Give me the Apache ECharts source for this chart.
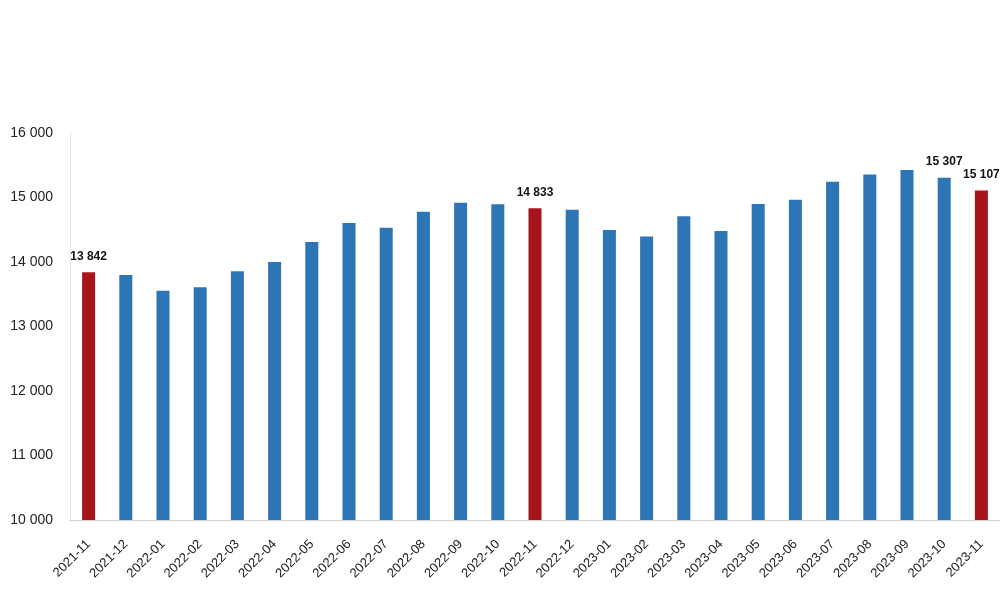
<!DOCTYPE html>
<html>
<head>
<meta charset="utf-8">
<style>
  html, body { margin: 0; padding: 0; background: #fff; }
  .bar { width: 1000px; height: 593px; }
</style>
<script src="https://cdn.jsdelivr.net/npm/echarts@6/dist/echarts.min.js"></script>
</head>
<body>
<div class="bar"></div>
<script>
// 月份
var months = ['2021-11', '2021-12', '2022-01', '2022-02', '2022-03', '2022-04', '2022-05', '2022-06',
  '2022-07', '2022-08', '2022-09', '2022-10', '2022-11', '2022-12', '2023-01', '2023-02', '2023-03',
  '2023-04', '2023-05', '2023-06', '2023-07', '2023-08', '2023-09', '2023-10', '2023-11'];
// 数值
var values = [13842, 13800, 13555, 13610, 13855, 14000, 14310, 14605, 14530, 14780, 14920, 14895,
  14833, 14810, 14495, 14395, 14710, 14480, 14900, 14965, 15245, 15355, 15425, 15307, 15107];
// 红色柱子（同月对比）
var redMonths = ['2021-11', '2022-11', '2023-11'];
// 显示数值标签的柱子
var labelMonths = ['2021-11', '2022-11', '2023-10', '2023-11'];
// y轴刻度
var yMin = 10000;
var yMax = 16000;
var yStep = 1000;

(function () {
  function fmt(v) {
    return String(v).replace(/\B(?=(\d{3})+(?!\d))/g, ' ');
  }

  var data = values.map(function (v, i) {
    var m = months[i];
    return {
      value: v,
      itemStyle: { color: redMonths.indexOf(m) > -1 ? '#a8141b' : '#2e75b6' },
      label: { show: labelMonths.indexOf(m) > -1 }
    };
  });

  var option = {
    animation: false,
    textStyle: { fontFamily: 'Liberation Sans, Arial, sans-serif' },
    grid: {
      left: 70,
      right: 0,
      top: 133,
      bottom: 73
    },
    xAxis: {
      type: 'category',
      data: months,
      axisTick: { show: false },
      axisLine: { lineStyle: { color: '#d0d0d0' } },
      axisLabel: {
        color: '#222',
        fontSize: 13,
        rotate: 45,
        margin: 22,
        interval: 0
      }
    },
    yAxis: {
      type: 'value',
      min: yMin,
      max: yMax,
      interval: yStep,
      axisLine: { show: true, lineStyle: { color: '#e6e6e6' } },
      axisTick: { show: false },
      splitLine: { show: false },
      axisLabel: {
        color: '#222',
        fontSize: 14,
        margin: 17,
        formatter: fmt
      }
    },
    series: [
      {
        type: 'bar',
        barWidth: '35%',
        data: data,
        label: {
          position: 'top',
          distance: 10,
          color: '#111',
          fontSize: 12,
          fontWeight: 'bold',
          formatter: function (p) { return fmt(p.value); }
        }
      }
    ]
  };

  var myChart = echarts.init(document.querySelector('.bar'));
  myChart.setOption(option);
})();
</script>
</body>
</html>
